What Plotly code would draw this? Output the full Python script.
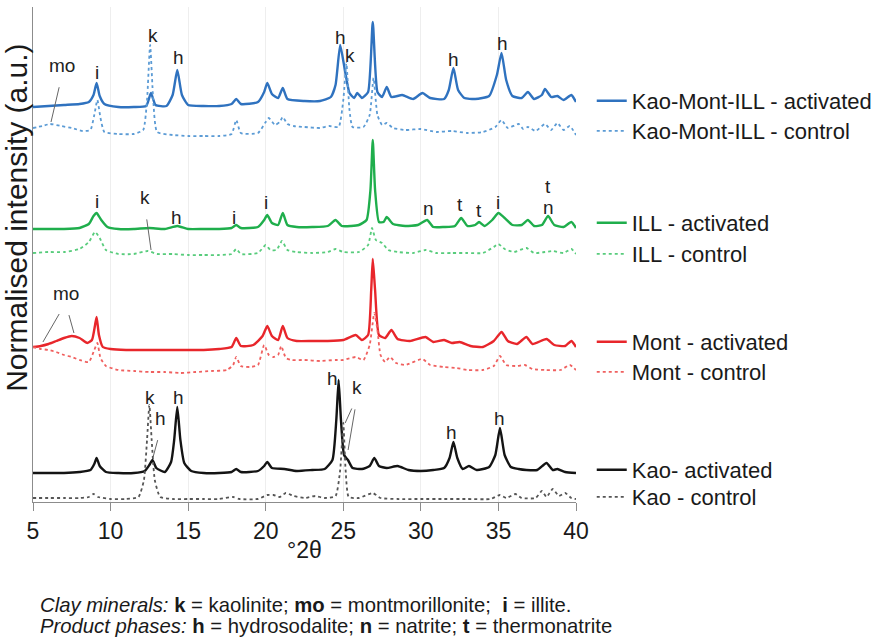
import plotly.graph_objects as go

# ---------------- data (normalised intensity, a.u., stacked patterns) ----------------
kmi_act_x = [5.0, 6.0, 7.0, 8.0, 8.6, 8.9, 9.1, 9.3, 9.6, 10.5, 11.5, 12.3, 12.6, 12.9, 13.6, 14.0, 14.3, 14.6,
             15.0, 16.0, 17.0, 17.8, 18.1, 18.4, 19.5, 19.9, 20.1, 20.4, 20.8, 21.1, 21.4, 22.5, 23.5, 24.2,
             24.5, 24.8, 25.1, 25.4, 25.7, 25.9, 26.2, 26.6, 26.9, 27.2, 27.5, 27.8, 28.1, 28.8, 29.5, 30.1,
             30.6, 31.5, 31.8, 32.1, 32.4, 32.8, 33.5, 34.4, 34.9, 35.2, 35.5, 35.9, 36.5, 36.9, 37.3, 37.8,
             38.0, 38.4, 38.8, 39.2, 39.7, 40.0]
kmi_act_y = [395, 396, 397, 398, 400, 407, 419, 406, 398, 395, 395, 396, 409, 397, 396, 407, 432, 407,
             397, 396, 396, 398, 403, 398, 400, 410, 419, 408, 404, 414, 403, 401, 401, 405,
             417, 457, 432, 409, 404, 409, 404, 410, 480, 410, 405, 415, 405, 407, 403, 409,
             404, 403, 412, 434, 412, 404, 403, 406, 427, 449, 422, 406, 404, 410, 403, 407,
             413, 405, 406, 402, 407, 400]

kmi_ctl_x = [5.0, 5.6, 6.1, 6.8, 7.5, 8.2, 8.7, 8.95, 9.15, 9.35, 9.6, 10.5, 11.5, 12.1, 12.35, 12.55, 12.75,
             13.0, 14.0, 15.0, 16.0, 17.0, 17.8, 18.1, 18.4, 19.5, 20.0, 20.2, 20.6, 20.9, 21.1, 21.4, 21.8,
             22.5, 23.5, 24.1, 24.7, 25.0, 25.2, 25.4, 25.6, 26.3, 26.7, 26.95, 27.2, 27.5, 27.8, 28.2, 29.0,
             30.0, 31.0, 32.0, 33.0, 34.0, 34.8, 35.2, 35.6, 36.3, 36.6, 36.9, 37.4, 38.0, 38.4, 38.8, 39.2,
             39.6, 40.0]
kmi_ctl_y = [374, 376, 378, 376, 374, 371, 372, 387, 402, 384, 370, 368, 368, 372, 402, 457, 402,
             370, 367, 366, 366, 366, 368, 382, 369, 369, 380, 384, 377, 380, 385, 378, 376,
             375, 374, 376, 375, 402, 439, 392, 375, 375, 387, 424, 387, 377, 379, 374, 372,
             373, 370, 371, 369, 370, 375, 382, 374, 378, 373, 375, 371, 378, 372, 379, 372,
             376, 367]

ill_act_x = [5.0, 6.0, 7.0, 8.0, 8.6, 8.9, 9.1, 9.4, 9.8, 10.5, 11.5, 12.5, 13.5, 14.3, 15.0, 16.0, 17.0,
             17.8, 18.1, 18.4, 19.5, 19.9, 20.1, 20.4, 20.8, 21.1, 21.4, 22.0, 23.0, 24.0, 24.5, 24.9, 25.5,
             26.0, 26.5, 26.75, 26.9, 27.05, 27.3, 27.6, 27.8, 28.2, 29.0, 29.8, 30.4, 30.8, 31.5, 32.2, 32.6,
             33.0, 33.5, 33.75, 34.1, 34.6, 35.0, 35.4, 35.9, 36.5, 36.9, 37.3, 37.8, 38.2, 38.6, 39.2, 39.7,
             40.0]
ill_act_y = [273, 273, 273, 274, 278, 286, 289, 282, 275, 273, 273, 274, 273, 276, 273, 273, 273,
             274, 277, 274, 275, 282, 287, 279, 277, 289, 277, 275, 275, 276, 282, 276, 276,
             277, 282, 312, 362, 312, 280, 280, 285, 278, 276, 277, 282, 275, 275, 276, 284,
             276, 277, 280, 276, 282, 289, 284, 277, 277, 282, 276, 277, 286, 277, 275, 280,
             274]

ill_ctl_x = [5.0, 6.0, 7.0, 8.0, 8.6, 9.0, 9.3, 9.7, 10.5, 11.5, 12.4, 13.0, 14.0, 15.0, 16.0, 17.0, 17.8,
             18.1, 18.4, 19.5, 20.0, 20.3, 20.7, 21.05, 21.4, 22.0, 23.0, 24.0, 24.5, 25.0, 26.0, 26.6,
             26.85, 27.1, 27.5, 27.9, 28.5, 29.5, 30.3, 31.0, 32.0, 33.0, 34.0, 34.7, 35.0, 35.4, 36.0,
             36.8, 37.3, 38.0, 38.5, 39.2, 39.7, 40.0]
ill_ctl_y = [249, 250, 250, 253, 260, 270, 264, 252, 248, 248, 251, 248, 248, 247, 247, 247, 248,
             253, 248, 249, 257, 252, 252, 261, 252, 250, 249, 250, 253, 250, 250, 257,
             274, 262, 259, 252, 250, 249, 252, 249, 249, 249, 249, 255, 258, 253, 250,
             254, 249, 250, 251, 249, 253, 248]

mont_act_x = [5.0, 5.5, 6.0, 6.5, 7.0, 7.5, 8.0, 8.5, 8.8, 9.0, 9.1, 9.25, 9.5, 10.0, 11.0, 12.0, 13.0, 14.0,
              15.0, 16.0, 17.0, 17.8, 18.1, 18.4, 19.2, 19.8, 20.1, 20.4, 20.8, 21.1, 21.4, 22.0, 23.0, 24.0,
              25.0, 25.8, 26.2, 26.6, 26.8, 26.9, 27.05, 27.3, 27.7, 28.1, 28.5, 29.3, 30.3, 30.8, 31.5, 32.0,
              32.5, 33.2, 34.0, 34.7, 35.2, 35.6, 36.2, 36.8, 37.2, 38.1, 38.6, 39.3, 39.7, 40.0]
mont_act_y = [155, 156, 158, 161, 164, 166, 164, 159, 162, 177, 185, 167, 155, 153, 152, 152, 152, 152,
              152, 152, 153, 155, 164, 156, 157, 166, 176, 166, 162, 176, 164, 161, 161, 161,
              162, 167, 162, 167, 212, 243, 212, 167, 164, 172, 163, 161, 165, 160, 162, 159,
              160, 156, 155, 161, 170, 161, 158, 165, 158, 163, 157, 156, 161, 155]

mont_ctl_x = [5.0, 5.5, 6.0, 6.5, 7.0, 7.5, 8.0, 8.6, 8.95, 9.15, 9.35, 9.7, 10.5, 11.5, 12.5, 13.5, 14.5,
              15.5, 16.5, 17.5, 17.9, 18.1, 18.4, 19.0, 19.5, 19.9, 20.2, 20.5, 20.8, 21.0, 21.3, 21.7, 22.5,
              23.5, 24.5, 25.0, 25.8, 26.3, 26.7, 27.0, 27.2, 27.4, 27.7, 28.0, 28.4, 29.0, 30.1, 30.6, 31.5,
              32.3, 33.0, 34.0, 34.7, 35.1, 35.5, 36.2, 36.7, 37.2, 38.0, 39.0, 39.6, 40.0]
mont_ctl_y = [155, 153, 152, 150, 147, 145, 142, 140, 152, 159, 144, 136, 132, 131, 130, 130, 129,
              130, 131, 132, 137, 145, 136, 135, 137, 157, 147, 145, 147, 156, 144, 142, 142,
              141, 142, 142, 145, 142, 157, 189, 172, 147, 140, 145, 139, 137, 143, 137, 135,
              134, 132, 132, 136, 146, 137, 136, 137, 133, 132, 132, 137, 132]

kao_act_x = [5.0, 6.0, 7.0, 8.0, 8.7, 8.95, 9.1, 9.3, 9.7, 10.5, 11.5, 12.2, 12.5, 12.7, 12.95, 13.5, 13.9,
             14.1, 14.3, 14.5, 14.75, 15.2, 16.0, 17.0, 17.8, 18.1, 18.4, 19.5, 19.9, 20.1, 20.4, 21.2, 22.0,
             23.0, 23.8, 24.3, 24.55, 24.7, 24.85, 25.05, 25.3, 25.6, 26.2, 26.7, 27.0, 27.3, 27.8, 28.5, 29.2,
             30.0, 30.8, 31.5, 31.85, 32.1, 32.35, 32.7, 33.1, 33.6, 34.4, 34.8, 35.1, 35.4, 35.8, 36.3, 36.8,
             37.5, 38.1, 38.5, 38.8, 39.3, 40.0]
kao_act_y = [29, 29, 29, 30, 32, 38, 44, 36, 30, 29, 29, 31, 37, 42, 34, 30, 40,
             62, 95, 62, 39, 31, 29, 29, 30, 33, 30, 31, 36, 40, 34, 33, 31,
             32, 33, 42, 82, 122, 82, 47, 42, 34, 33, 36, 44, 36, 34, 36, 32,
             31, 32, 34, 44, 60, 44, 33, 36, 32, 35, 47, 74, 47, 35, 33, 32,
             32, 39, 32, 33, 30, 29]

kao_ctl_x = [5.0, 6.0, 7.0, 8.0, 8.6, 8.9, 9.2, 10.0, 11.0, 11.8, 12.15, 12.35, 12.5, 12.65, 12.85, 13.2,
             14.0, 15.0, 16.0, 17.0, 17.9, 18.3, 19.5, 20.1, 20.5, 20.9, 21.3, 21.8, 22.5, 23.2, 23.8, 24.5,
             24.8, 25.0, 25.15, 25.35, 26.0, 26.9, 27.4, 28.5, 30.0, 31.5, 33.0, 34.5, 35.1, 35.5, 36.1, 36.5,
             37.4, 37.8, 38.1, 38.5, 38.9, 39.3, 39.7, 40.0]
kao_ctl_y = [4, 4, 4, 4, 5, 8, 5, 3, 3, 5, 22, 62, 97, 62, 22, 5,
             3, 3, 3, 3, 5, 3, 3, 7, 7, 5, 9, 6, 4, 6, 4, 6,
             32, 79, 32, 5, 4, 9, 4, 3, 3, 3, 3, 3, 7, 4, 8, 4,
             4, 11, 5, 13, 6, 9, 4, 3]

series_names = ["Kao-Mont-ILL - activated", "Kao-Mont-ILL - control",
                "ILL - activated", "ILL - control",
                "Mont - activated", "Mont - control",
                "Kao- activated", "Kao - control"]
series_x = [kmi_act_x, kmi_ctl_x, ill_act_x, ill_ctl_x, mont_act_x, mont_ctl_x, kao_act_x, kao_ctl_x]
series_y = [kmi_act_y, kmi_ctl_y, ill_act_y, ill_ctl_y, mont_act_y, mont_ctl_y, kao_act_y, kao_ctl_y]

# peak labels: (text, 2theta, intensity)
peak_labels = [
    ("i", 9.13, 430), ("k", 12.74, 467), ("h", 14.41, 445), ("h", 24.8, 465), ("k", 25.44, 447),
    ("h", 32.08, 443), ("h", 35.24, 459),
    ("i", 9.13, 301), ("h", 14.28, 285), ("i", 17.96, 285), ("i", 20.02, 300), ("n", 30.47, 294),
    ("t", 32.5, 298), ("t", 33.75, 292), ("i", 34.98, 300), ("t", 38.2, 316), ("n", 38.2, 295),
    ("k", 12.54, 105), ("h", 14.35, 105), ("h", 24.28, 124), ("h", 32.0, 70), ("h", 35.1, 84),
]
# labels with leader lines: (text, 2theta at line end, intensity at line end, text 2theta, text intensity)
leader_labels = [
    ("mo", 6.16, 380, 6.87, 427),
    ("k", 12.61, 252, 12.22, 295),
    ("mo", 5.64, 160, 7.1, 199),
    ("", 7.64, 169, 7.1, 199),
    ("h", 12.74, 45, 13.25, 74),
    ("k", 25.12, 79, 25.89, 105),
    ("", 25.31, 52, 25.89, 105),
]

# ---------------- styling ----------------
colors = ["#2f72bf", "#5b9bd5", "#1fae4c", "#58cc7c", "#e8262b", "#f0605f", "#141414", "#555555"]
dashes = ["solid", "dot"] * 4
widths = [2.4, 1.8] * 4
legend_ids = ["legend", "legend2", "legend3", "legend4", "legend5", "legend6", "legend7", "legend8"]
legend_text_px = [101, 131, 223, 254, 342, 372, 470, 497]   # vertical pixel centres of legend entries

FONT = "Arial, Liberation Sans, sans-serif"
PLOT_TOP, PLOT_BOTTOM = 7, 502

fig = go.Figure()
for name, xs, ys, c, d, w, lg in zip(series_names, series_x, series_y, colors, dashes, widths, legend_ids):
    fig.add_trace(go.Scatter(x=xs, y=ys, mode="lines", name=name, legend=lg,
                             line=dict(color=c, dash=d, width=w, shape="spline", smoothing=0.5)))

annotations = []
for t, x, y in peak_labels:
    annotations.append(dict(x=x, y=y, xref="x", yref="y", text=t, showarrow=False,
                            font=dict(size=19, color="#222222", family=FONT)))

for t, hx, hy, tx, ty in leader_labels:
    annotations.append(dict(x=hx, y=hy, xref="x", yref="y", ax=tx, ay=ty, axref="x", ayref="y",
                            text="", showarrow=True, arrowhead=0, arrowwidth=1, arrowcolor="#666666",
                            standoff=0, startstandoff=11))
    if t:
        annotations.append(dict(x=tx, y=ty, xref="x", yref="y", text=t, showarrow=False,
                                yshift=10, font=dict(size=19, color="#222222", family=FONT)))

# axis titles and caption
annotations.append(dict(x=-0.0295, y=0.574, xref="paper", yref="paper", text="Normalised intensity (a.u.)",
                        textangle=-90, showarrow=False, xanchor="center", yanchor="middle",
                        font=dict(size=30, color="#1a1a1a", family=FONT)))
annotations.append(dict(x=0.5, y=-0.097, xref="paper", yref="paper", text="°2θ",
                        showarrow=False, xanchor="center", yanchor="middle",
                        font=dict(size=23, color="#1a1a1a", family=FONT)))
annotations.append(dict(x=0.009, y=-0.208, xref="paper", yref="paper", xanchor="left", yanchor="middle",
                        text="<i>Clay minerals:</i> <b>k</b> = kaolinite; <b>mo</b> = montmorillonite;  <b>i</b> = illite.",
                        showarrow=False, font=dict(size=20.3, color="#1a1a1a", family=FONT)))
annotations.append(dict(x=0.009, y=-0.2505, xref="paper", yref="paper", xanchor="left", yanchor="middle",
                        text="<i>Product phases:</i> <b>h</b> = hydrosodalite; <b>n</b> = natrite; <b>t</b> = thermonatrite",
                        showarrow=False, font=dict(size=20.3, color="#1a1a1a", family=FONT)))

layout_legends = {}
for lg, py in zip(legend_ids, legend_text_px):
    layout_legends[lg] = dict(x=1.029, xanchor="left", y=(PLOT_BOTTOM - py) / (PLOT_BOTTOM - PLOT_TOP),
                              yanchor="middle", bgcolor="rgba(0,0,0,0)",
                              font=dict(size=22, color="#1a1a1a", family=FONT), itemwidth=30)

fig.update_layout(
    width=884, height=642,
    margin=dict(l=33, r=308, t=PLOT_TOP, b=642 - PLOT_BOTTOM, autoexpand=False),
    paper_bgcolor="white", plot_bgcolor="white",
    font=dict(family=FONT, color="#1a1a1a"),
    showlegend=True,
    xaxis=dict(range=[5, 40], dtick=5, tick0=5, showgrid=True, gridcolor="#eeeeee", gridwidth=1,
               showline=True, linecolor="#8c8c8c", linewidth=1.2, ticks="outside", ticklen=8,
               tickcolor="#8c8c8c", tickfont=dict(size=23, color="#1a1a1a", family=FONT), zeroline=False),
    yaxis=dict(range=[0, PLOT_BOTTOM - PLOT_TOP], showgrid=False, showline=True, linecolor="#8c8c8c",
               linewidth=1.2, showticklabels=False, ticks="", zeroline=False),
    annotations=annotations,
    **layout_legends,
)

fig.write_html("out.html", config={"displayModeBar": False},
               post_script="document.body.style.margin='0';")
